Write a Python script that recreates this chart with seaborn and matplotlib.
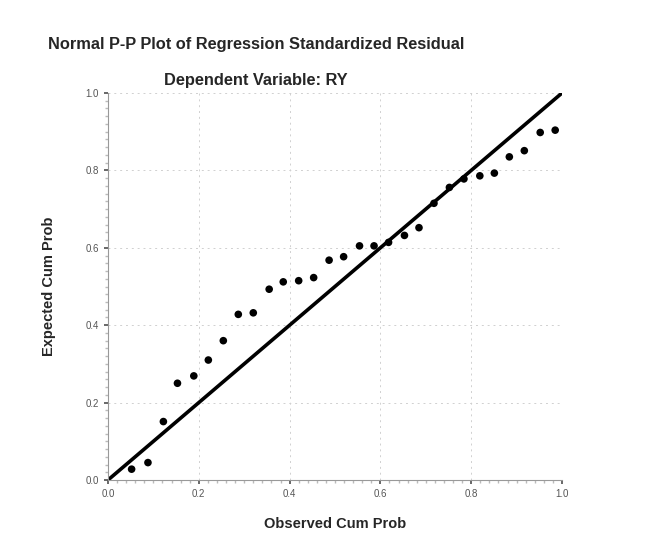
import numpy as np
import pandas as pd
import matplotlib
matplotlib.use("Agg")
import matplotlib.pyplot as plt
from matplotlib.ticker import MultipleLocator
import seaborn as sns

observed = [0.052, 0.088, 0.122, 0.153, 0.189, 0.221, 0.254, 0.287, 0.320, 0.355,
            0.386, 0.420, 0.453, 0.487, 0.519, 0.554, 0.586, 0.618, 0.653, 0.685,
            0.718, 0.752, 0.784, 0.819, 0.851, 0.884, 0.917, 0.952, 0.985]
expected = [0.028, 0.045, 0.151, 0.250, 0.269, 0.310, 0.360, 0.428, 0.432, 0.493,
            0.512, 0.515, 0.523, 0.568, 0.577, 0.605, 0.605, 0.614, 0.632, 0.652,
            0.715, 0.756, 0.778, 0.786, 0.793, 0.835, 0.851, 0.898, 0.904]
ref_line = [0.0, 1.0]
tick_vals = [0.0, 0.2, 0.4, 0.6, 0.8, 1.0]
tick_labels = ["0.0", "0.2", "0.4", "0.6", "0.8", "1.0"]

sns.set_theme(style="white")
plt.rcParams['font.family'] = ['Liberation Sans', 'DejaVu Sans']

df = pd.DataFrame({"Observed Cum Prob": observed, "Expected Cum Prob": expected})

fig = plt.figure(figsize=(6.57, 5.45), dpi=100)
ax = fig.add_axes([108/657, 65/545, 454/657, 387/545])

sns.lineplot(x=ref_line, y=ref_line, ax=ax, color="black", linewidth=2.6)
sns.scatterplot(data=df, x="Observed Cum Prob", y="Expected Cum Prob", ax=ax,
                color="black", s=30, edgecolor="none")

ax.set_xlim(0, 1)
ax.set_ylim(0, 1)
ax.set_xticks(tick_vals)
ax.set_xticklabels(tick_labels)
ax.set_yticks(tick_vals)
ax.set_yticklabels(tick_labels)
ax.xaxis.set_minor_locator(MultipleLocator(0.02))
ax.yaxis.set_minor_locator(MultipleLocator(0.02))
ax.tick_params(axis="both", which="major", labelsize=7, colors="#555555", length=3, direction="out")
ax.tick_params(axis="both", which="minor", length=2, color="#bbbbbb")
ax.tick_params(bottom=True, left=True)
ax.tick_params(which="minor", bottom=True, left=True)
ax.grid(True, which="major", linestyle=(0, (2, 4)), color="#d0d0d0", linewidth=0.7)

for side in ["top", "right"]:
    ax.spines[side].set_visible(False)
for side in ["left", "bottom"]:
    ax.spines[side].set_color("#999999")
    ax.spines[side].set_linewidth(0.8)

ax.set_xlabel("Observed Cum Prob", fontsize=10.5, fontweight="bold", labelpad=13)
ax.set_ylabel("Expected Cum Prob", fontsize=10.5, fontweight="bold", labelpad=21)

fig.text(256/657, 1 - 45/545, "Normal P-P Plot of Regression Standardized Residual",
         ha="center", va="center", fontsize=11.8, fontweight="bold")
fig.text(256/657, 1 - 80/545, "Dependent Variable: RY",
         ha="center", va="center", fontsize=11.8, fontweight="bold")

fig.savefig("out.png", dpi=100, facecolor="white")
